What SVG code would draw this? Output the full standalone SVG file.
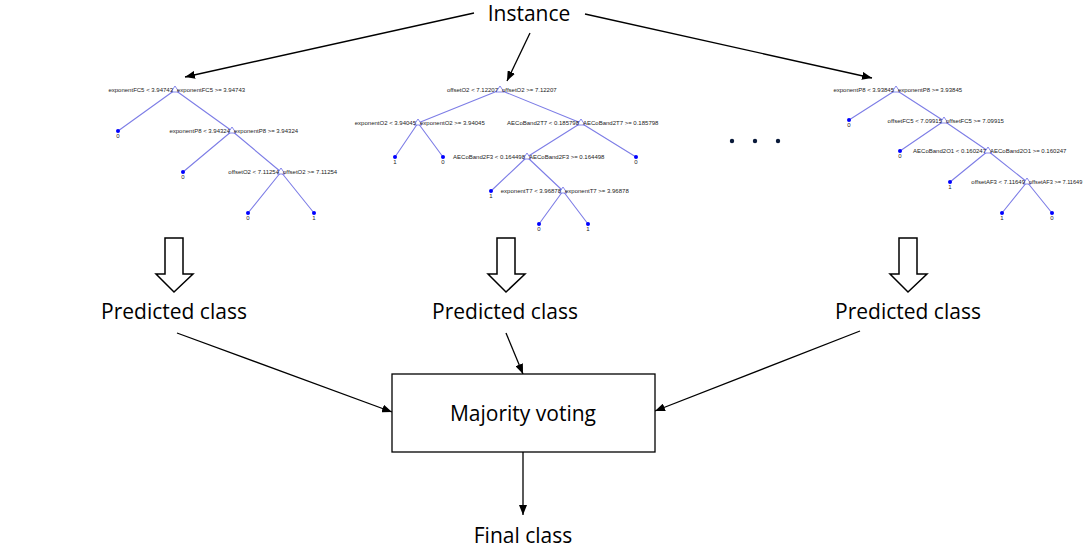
<svg xmlns="http://www.w3.org/2000/svg" width="1083" height="547" viewBox="0 0 1083 547">
<defs>
<marker id="ah" viewBox="0 0 10 8" refX="10" refY="4" markerWidth="10" markerHeight="8" markerUnits="userSpaceOnUse" orient="auto">
<path d="M0,0 L10,4 L0,8 Z" fill="#000"/>
</marker>
</defs>
<style>
.main{font-family:"Open Sans","Liberation Sans",sans-serif;font-size:21px;fill:#000;text-anchor:middle}
.conn{stroke:#000;stroke-width:1.3;fill:none}
.edge{stroke:#7d7de6;stroke-width:1.1;fill:none}
.tri{fill:#fff;stroke:#6a6ae6;stroke-width:0.8}
.leaf{fill:#0000ff}
.tl{font-family:"Liberation Sans",Arial,sans-serif;font-size:6px;fill:#222}
.l{text-anchor:end}
.r{text-anchor:start}
.c{text-anchor:middle}
.blk{fill:#fff;stroke:#000;stroke-width:1.5}
</style>
<rect width="1083" height="547" fill="#fff"/>

<g id="connectors">
<line class="conn" x1="474" y1="13" x2="185" y2="77" marker-end="url(#ah)"/>
<line class="conn" x1="530" y1="33" x2="507" y2="81" marker-end="url(#ah)"/>
<line class="conn" x1="585" y1="14" x2="872" y2="78" marker-end="url(#ah)"/>
<line class="conn" x1="177" y1="333" x2="392" y2="412" marker-end="url(#ah)"/>
<line class="conn" x1="506" y1="333" x2="523" y2="374" marker-end="url(#ah)"/>
<line class="conn" x1="860" y1="331" x2="655" y2="411" marker-end="url(#ah)"/>
<line class="conn" x1="523" y1="452" x2="523" y2="515" marker-end="url(#ah)"/>
</g>

<g id="instance"><text class="main" x="529" y="21">Instance</text></g>

<g id="tree1">
<path class="edge" d="M175,90 L118,131 M175,90 L232,131 M232,131 L183,172 M232,131 L281,172 M281,172 L248,213 M281,172 L314,213"/>
<polygon class="tri" points="175,86 171,92 179,92"/>
<polygon class="tri" points="232,127 228,133 236,133"/>
<polygon class="tri" points="281,168 277,174 285,174"/>
<text class="tl l" x="173" y="92">exponentFC5 &lt; 3.94743</text>
<text class="tl r" x="177" y="92">exponentFC5 &gt;= 3.94743</text>
<text class="tl l" x="230" y="133">exponentP8 &lt; 3.94324</text>
<text class="tl r" x="234" y="133">exponentP8 &gt;= 3.94324</text>
<text class="tl l" x="279" y="174">offsetO2 &lt; 7.11254</text>
<text class="tl r" x="283" y="174">offsetO2 &gt;= 7.11254</text>
<circle class="leaf" cx="118" cy="131" r="2"/><text class="tl c" x="118" y="138">0</text>
<circle class="leaf" cx="183" cy="172" r="2"/><text class="tl c" x="183" y="179">0</text>
<circle class="leaf" cx="248" cy="213" r="2"/><text class="tl c" x="248" y="220">0</text>
<circle class="leaf" cx="314" cy="213" r="2"/><text class="tl c" x="314" y="220">1</text>
</g>

<g id="tree2">
<path class="edge" d="M500,90 L418,123 M500,90 L581,123 M418,123 L395,157 M418,123 L443,157 M581,123 L527,157 M581,123 L636,157 M527,157 L491,191 M527,157 L563,191 M563,191 L539,224 M563,191 L588,224"/>
<polygon class="tri" points="500,86 496,92 504,92"/>
<polygon class="tri" points="418,119 414,125 422,125"/>
<polygon class="tri" points="581,119 577,125 585,125"/>
<polygon class="tri" points="527,153 523,159 531,159"/>
<polygon class="tri" points="563,187 559,193 567,193"/>
<text class="tl l" x="498" y="92">offsetO2 &lt; 7.12207</text>
<text class="tl r" x="502" y="92">offsetO2 &gt;= 7.12207</text>
<text class="tl l" x="416" y="125">exponentO2 &lt; 3.94045</text>
<text class="tl r" x="420" y="125">exponentO2 &gt;= 3.94045</text>
<text class="tl l" x="579" y="125">AECoBand2T7 &lt; 0.185798</text>
<text class="tl r" x="583" y="125">AECoBand2T7 &gt;= 0.185798</text>
<text class="tl l" x="525" y="159">AECoBand2F3 &lt; 0.164498</text>
<text class="tl r" x="529" y="159">AECoBand2F3 &gt;= 0.164498</text>
<text class="tl l" x="561" y="193">exponentT7 &lt; 3.96878</text>
<text class="tl r" x="565" y="193">exponentT7 &gt;= 3.96878</text>
<circle class="leaf" cx="395" cy="157" r="2"/><text class="tl c" x="395" y="164">1</text>
<circle class="leaf" cx="443" cy="157" r="2"/><text class="tl c" x="443" y="164">0</text>
<circle class="leaf" cx="636" cy="157" r="2"/><text class="tl c" x="636" y="164">0</text>
<circle class="leaf" cx="491" cy="191" r="2"/><text class="tl c" x="491" y="198">1</text>
<circle class="leaf" cx="539" cy="224" r="2"/><text class="tl c" x="539" y="231">0</text>
<circle class="leaf" cx="588" cy="224" r="2"/><text class="tl c" x="588" y="231">1</text>
</g>

<g id="ellipsis">
<circle cx="732" cy="141" r="2.2" fill="#0a1a3a"/>
<circle cx="755" cy="141" r="2.2" fill="#0a1a3a"/>
<circle cx="778" cy="141" r="2.2" fill="#0a1a3a"/>
</g>

<g id="tree3">
<path class="edge" d="M896,90 L849,120 M896,90 L944,121 M944,121 L900,151 M944,121 L988,151 M988,151 L950,182 M988,151 L1027,182 M1027,182 L1002,213 M1027,182 L1052,213"/>
<polygon class="tri" points="896,86 892,92 900,92"/>
<polygon class="tri" points="944,117 940,123 948,123"/>
<polygon class="tri" points="988,147 984,153 992,153"/>
<polygon class="tri" points="1027,178 1023,184 1031,184"/>
<text class="tl l" x="894" y="92">exponentP8 &lt; 3.93845</text>
<text class="tl r" x="898" y="92">exponentP8 &gt;= 3.93845</text>
<text class="tl l" x="942" y="123">offsetFC5 &lt; 7.09915</text>
<text class="tl r" x="946" y="123">offsetFC5 &gt;= 7.09915</text>
<text class="tl l" x="986" y="153">AECoBand2O1 &lt; 0.160247</text>
<text class="tl r" x="990" y="153">AECoBand2O1 &gt;= 0.160247</text>
<text class="tl l" x="1025" y="184">offsetAF3 &lt; 7.11649</text>
<text class="tl r" x="1029" y="184" style="font-size:5.6px">offsetAF3 &gt;= 7.11649</text>
<circle class="leaf" cx="849" cy="120" r="2"/><text class="tl c" x="849" y="127">0</text>
<circle class="leaf" cx="900" cy="151" r="2"/><text class="tl c" x="900" y="158">0</text>
<circle class="leaf" cx="950" cy="182" r="2"/><text class="tl c" x="950" y="189">1</text>
<circle class="leaf" cx="1002" cy="213" r="2"/><text class="tl c" x="1002" y="220">1</text>
<circle class="leaf" cx="1052" cy="213" r="2"/><text class="tl c" x="1052" y="220">0</text>
</g>

<g id="blockarrow1"><path class="blk" d="M165,238 H183 V274 H193 L174,292 L156,274 H165 Z"/></g>
<g id="blockarrow2"><path class="blk" d="M497,238 H515 V274 H525 L506,292 L488,274 H497 Z"/></g>
<g id="blockarrow3"><path class="blk" d="M899,238 H917 V274 H927 L908,292 L890,274 H899 Z"/></g>

<g id="pred1"><text class="main" x="174" y="319">Predicted class</text></g>
<g id="pred2"><text class="main" x="505" y="319">Predicted class</text></g>
<g id="pred3"><text class="main" x="908" y="319">Predicted class</text></g>

<g id="majority">
<rect x="392" y="374" width="263" height="78" fill="#fff" stroke="#000" stroke-width="1.3"/>
<text class="main" x="523" y="421">Majority voting</text>
</g>

<g id="final"><text class="main" x="523" y="543">Final class</text></g>
</svg>
